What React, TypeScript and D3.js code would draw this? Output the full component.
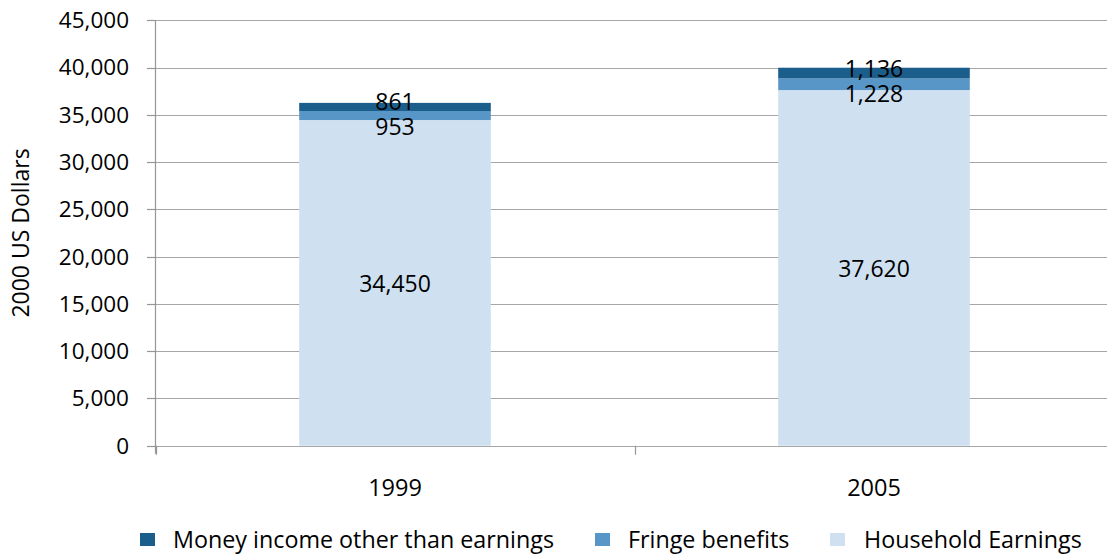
import React from "react";
import * as d3 from "d3";

const years = ["1999", "2005"];
const householdEarnings = [34450, 37620];
const fringeBenefits = [953, 1228];
const otherIncome = [861, 1136];
const seriesNames = ["Household Earnings", "Fringe benefits", "Money income other than earnings"];
const legendOrder = ["Money income other than earnings", "Fringe benefits", "Household Earnings"];
const yTicks = [0, 5000, 10000, 15000, 20000, 25000, 30000, 35000, 40000, 45000];
const yTitle = "2000 US Dollars";

const W = 1107;
const H = 554;
const FONT = "'Open Sans', 'Liberation Sans', sans-serif";
const colors: Record<string, string> = {
  "Household Earnings": "#CFE0F1",
  "Fringe benefits": "#5796C7",
  "Money income other than earnings": "#1B5E8C",
};

export default function App() {
  const x = d3.scaleBand<string>().domain(years).range([155.5, 1113.5]).paddingInner(0.6).paddingOuter(0.3);
  const y = d3.scaleLinear().domain([0, 45000]).range([445.7, 20.3]);
  const fmt = d3.format(",");

  const table = years.map((yr, i) => ({
    year: yr,
    "Household Earnings": householdEarnings[i],
    "Fringe benefits": fringeBenefits[i],
    "Money income other than earnings": otherIncome[i],
  }));
  const stacked = d3.stack<any>().keys(seriesNames)(table);

  const labels: { x: number; y: number; text: string }[] = [];
  years.forEach((yr, i) => {
    const cx = (x(yr) as number) + x.bandwidth() / 2;
    const centers = stacked.map((s) => (y(s[i][0]) + y(s[i][1])) / 2);
    const pos = centers.map((c) => c + 1.5);
    const a = pos[1], b = pos[2];
    if (a - b < 24) {
      const m = (a + b) / 2 + 1.5;
      pos[1] = m + 12.5;
      pos[2] = m - 12.5;
    }
    stacked.forEach((s, k) => {
      labels.push({ x: cx, y: pos[k], text: fmt(s[i][1] - s[i][0]) });
    });
  });

  const legendItems = [
    { name: legendOrder[0], sx: 140, tx: 173 },
    { name: legendOrder[1], sx: 595, tx: 628 },
    { name: legendOrder[2], sx: 830, tx: 864 },
  ];

  return (
    <svg width={W} height={H} style={{ position: "absolute", left: 0, top: 0, background: "#fff" }} fontFamily={FONT}>
      {yTicks.map((t) => (
        <line key={"g" + t} x1={155.5} x2={W} y1={Math.round(y(t)) + 0.5} y2={Math.round(y(t)) + 0.5} stroke="#A6A6A6" strokeWidth={1.2} />
      ))}
      <line x1={155.5} x2={155.5} y1={y(45000)} y2={y(0) + 8} stroke="#969696" strokeWidth={1.2} />
      {yTicks.map((t) => (
        <g key={"t" + t}>
          <line x1={147} x2={155.5} y1={Math.round(y(t)) + 0.5} y2={Math.round(y(t)) + 0.5} stroke="#969696" strokeWidth={1.2} />
          <text x={129} y={y(t)} dy="0.35em" textAnchor="end" fontSize={22.5} fill="#000">
            {fmt(t)}
          </text>
        </g>
      ))}
      {[155.5, 155.5 + x.step(), 155.5 + 2 * x.step()].map((tx, i) => (
        <line key={"xt" + i} x1={Math.round(tx) + 0.5} x2={Math.round(tx) + 0.5} y1={y(0)} y2={y(0) + 9} stroke="#969696" strokeWidth={1.2} />
      ))}
      {stacked.map((s) =>
        s.map((d, i) => (
          <rect
            key={s.key + i}
            x={x(years[i])}
            width={x.bandwidth()}
            y={y(d[1])}
            height={y(d[0]) - y(d[1])}
            fill={colors[s.key]}
          />
        ))
      )}
      {labels.map((l, i) => (
        <text key={"l" + i} x={l.x} y={l.y} dy="0.35em" textAnchor="middle" fontSize={23} fill="#000">
          {l.text}
        </text>
      ))}
      {years.map((yr) => (
        <text key={yr} x={(x(yr) as number) + x.bandwidth() / 2} y={488} dy="0.35em" textAnchor="middle" fontSize={23.5} fill="#000">
          {yr}
        </text>
      ))}
      <text transform={`translate(21,${233}) rotate(-90)`} textAnchor="middle" dy="0.35em" fontSize={23} fill="#000">
        {yTitle}
      </text>
      {legendItems.map((it) => (
        <g key={it.name}>
          <rect x={it.sx} y={533} width={15} height={13} fill={colors[it.name]} />
          <text x={it.tx} y={539.5} dy="0.35em" fontSize={23.3} fill="#000">
            {it.name}
          </text>
        </g>
      ))}
    </svg>
  );
}
